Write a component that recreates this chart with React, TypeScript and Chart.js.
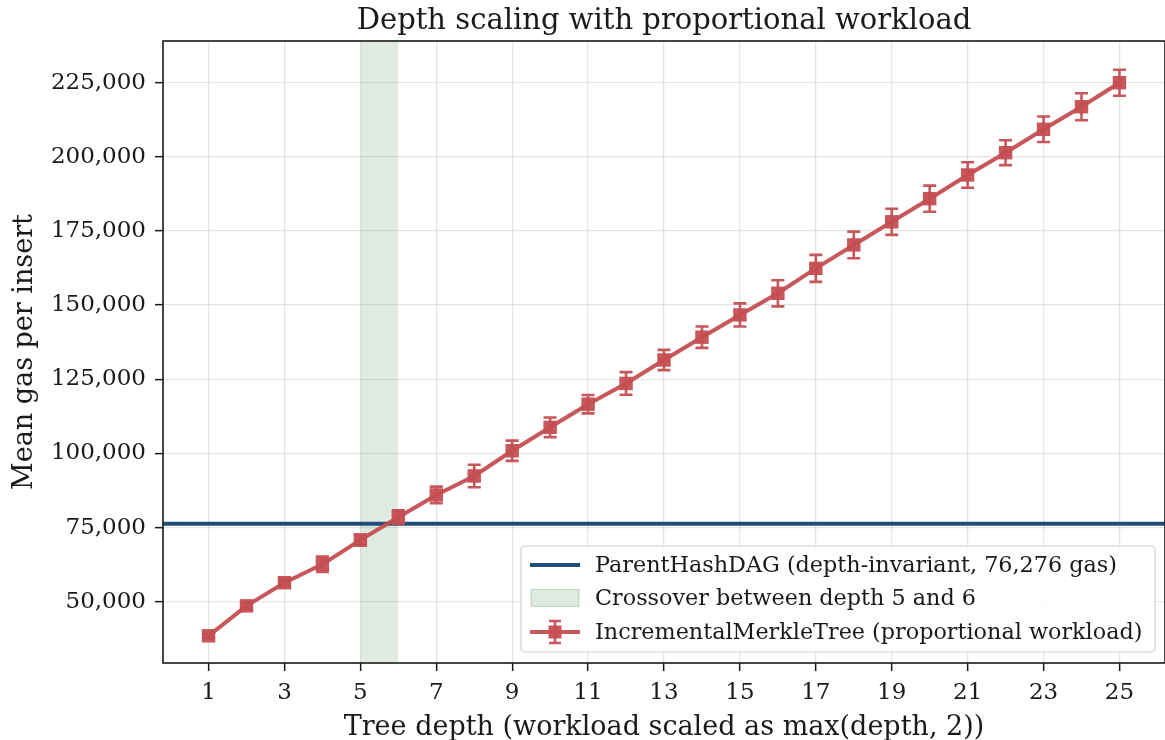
import React, { useEffect, useRef } from "react";
import { Chart, registerables } from "chart.js";

Chart.register(...registerables);

// ---------------- data ----------------
const depths = [1, 2, 3, 4, 5, 6, 7, 8, 9, 10, 11, 12, 13, 14, 15, 16, 17, 18, 19, 20, 21, 22, 23, 24, 25];
const meanGas = [
  38500, 48600, 56400, 62600, 70800, 78500, 86000, 92400, 100900, 108800, 116600, 123600, 131500,
  139200, 146700, 154000, 162400, 170300, 178100, 185900, 193900, 201400, 209300, 216900, 225000,
];
const gasErr = [
  700, 900, 1100, 2600, 1800, 2300, 2800, 3800, 3400, 3300, 3100, 3800, 3400,
  3600, 3900, 4400, 4550, 4500, 4400, 4400, 4300, 4200, 4300, 4550, 4400,
];
const parentHashGas = 76276;
const crossoverStart = 5;
const crossoverEnd = 6;
const xTickValues = [1, 3, 5, 7, 9, 11, 13, 15, 17, 19, 21, 23, 25];
const yTickValues = [50000, 75000, 100000, 125000, 150000, 175000, 200000, 225000];
const xRange = [-0.2, 26.2];
const yRange = [29330, 239070];

const titleText = "Depth scaling with proportional workload";
const xLabelText = "Tree depth (workload scaled as max(depth, 2))";
const yLabelText = "Mean gas per insert";
const legendLabels = [
  "ParentHashDAG (depth-invariant, 76,276 gas)",
  "Crossover between depth 5 and 6",
  "IncrementalMerkleTree (proportional workload)",
];

// ---------------- style ----------------
const FONT = "'DejaVu Serif', serif";
const RED = "rgba(196,78,82,0.95)";
const NAVY = "#1f4e79";
const BAND_FILL = "rgba(80,140,90,0.18)";
const BAND_EDGE = "rgba(80,140,90,0.28)";
const TEXT = "#1a1a1a";

const zeroPadding = () => ({ left: 0, right: 0, top: 0, bottom: 0 });

const errorBarPlugin = {
  id: "errorBars",
  afterDatasetsDraw(chart: any) {
    const { ctx, scales } = chart;
    const xs = scales.x;
    const ys = scales.y;
    ctx.save();
    ctx.strokeStyle = RED;
    ctx.lineWidth = 2.6;
    depths.forEach((d, i) => {
      const px = xs.getPixelForValue(d);
      const top = ys.getPixelForValue(meanGas[i] + gasErr[i]);
      const bot = ys.getPixelForValue(meanGas[i] - gasErr[i]);
      ctx.beginPath();
      ctx.moveTo(px, top);
      ctx.lineTo(px, bot);
      ctx.moveTo(px - 6.5, top);
      ctx.lineTo(px + 6.5, top);
      ctx.moveTo(px - 6.5, bot);
      ctx.lineTo(px + 6.5, bot);
      ctx.stroke();
    });
    ctx.restore();
  },
};

const decorPlugin = {
  id: "decor",
  afterDraw(chart: any) {
    const { ctx, chartArea } = chart;
    const { left, right, top, bottom } = chartArea;
    ctx.save();
    // spines
    ctx.strokeStyle = "#1a1a1a";
    ctx.lineWidth = 1.6;
    ctx.strokeRect(left, top, right - left, bottom - top);

    // title
    ctx.fillStyle = TEXT;
    ctx.font = `29px ${FONT}`;
    ctx.textAlign = "center";
    ctx.textBaseline = "alphabetic";
    ctx.fillText(titleText, 664, 29);

    // x label
    ctx.font = `27px ${FONT}`;
    ctx.fillText(xLabelText, 664, 735);

    // y label
    ctx.save();
    ctx.translate(32, (top + bottom) / 2);
    ctx.rotate(-Math.PI / 2);
    ctx.fillText(yLabelText, 0, 0);
    ctx.restore();

    // legend
    const bx = 521, by = 546, bw = 634, bh = 106;
    ctx.beginPath();
    ctx.roundRect(bx, by, bw, bh, 4);
    ctx.fillStyle = "rgba(255,255,255,0.85)";
    ctx.fill();
    ctx.strokeStyle = "#d0d0d0";
    ctx.lineWidth = 1.2;
    ctx.stroke();

    const rows = [565, 598, 632];
    const hx0 = 530, hx1 = 580, hxm = 555;
    // row 1: navy line
    ctx.strokeStyle = NAVY;
    ctx.lineWidth = 4;
    ctx.beginPath();
    ctx.moveTo(hx0, rows[0]);
    ctx.lineTo(hx1, rows[0]);
    ctx.stroke();
    // row 2: band patch
    ctx.fillStyle = BAND_FILL;
    ctx.fillRect(hx0 + 1, rows[1] - 8.5, hx1 - hx0 - 2, 17);
    ctx.strokeStyle = BAND_EDGE;
    ctx.lineWidth = 1.2;
    ctx.strokeRect(hx0 + 1, rows[1] - 8.5, hx1 - hx0 - 2, 17);
    // row 3: red line with marker and error bar
    ctx.strokeStyle = RED;
    ctx.lineWidth = 4;
    ctx.beginPath();
    ctx.moveTo(hx0, rows[2]);
    ctx.lineTo(hx1, rows[2]);
    ctx.stroke();
    ctx.fillStyle = RED;
    ctx.fillRect(hxm - 6.5, rows[2] - 6.5, 13, 13);
    ctx.lineWidth = 2.6;
    ctx.beginPath();
    ctx.moveTo(hxm, rows[2] - 11);
    ctx.lineTo(hxm, rows[2] + 11);
    ctx.moveTo(hxm - 6, rows[2] - 11);
    ctx.lineTo(hxm + 6, rows[2] - 11);
    ctx.moveTo(hxm - 6, rows[2] + 11);
    ctx.lineTo(hxm + 6, rows[2] + 11);
    ctx.stroke();

    ctx.fillStyle = TEXT;
    ctx.font = `22.3px ${FONT}`;
    ctx.textAlign = "left";
    ctx.textBaseline = "middle";
    legendLabels.forEach((t, i) => ctx.fillText(t, 595, rows[i] + 1));
    ctx.restore();
  },
};

export default function App() {
  const canvasRef = useRef<HTMLCanvasElement | null>(null);

  useEffect(() => {
    document.body.style.margin = "0";
    const canvas = canvasRef.current;
    if (!canvas) return;
    const merklePoints = depths.map((d, i) => ({ x: d, y: meanGas[i] }));
    const hlinePoints = [
      { x: xRange[0], y: parentHashGas },
      { x: xRange[1], y: parentHashGas },
    ];
    const bandPoints = [
      { x: crossoverStart, y: yRange[1] },
      { x: crossoverEnd, y: yRange[1] },
    ];

    const chart = new Chart(canvas, {
      type: "line",
      data: {
        datasets: [
          {
            label: legendLabels[2],
            data: merklePoints,
            borderColor: RED,
            backgroundColor: RED,
            borderWidth: 4,
            pointStyle: "rect",
            pointRadius: 9.5,
            pointBorderWidth: 0,
            pointBackgroundColor: RED,
            tension: 0,
          },
          {
            label: legendLabels[0],
            data: hlinePoints,
            borderColor: NAVY,
            borderWidth: 4,
            pointRadius: 0,
          },
          {
            label: legendLabels[1],
            data: bandPoints,
            borderColor: "rgba(0,0,0,0)",
            borderWidth: 0,
            backgroundColor: BAND_FILL,
            fill: "start",
            pointRadius: 0,
          },
        ],
      },
      options: {
        responsive: false,
        animation: false,
        devicePixelRatio: 1,
        layout: { autoPadding: false, padding: { top: 41, left: 0, right: 0, bottom: 0 } },
        plugins: {
          legend: { display: false },
          title: { display: false },
          tooltip: { enabled: false },
        },
        scales: {
          x: {
            type: "linear",
            min: xRange[0],
            max: xRange[1],
            afterBuildTicks: (s: any) => {
              s.ticks = xTickValues.map((v) => ({ value: v }));
            },
            afterFit: (s: any) => {
              s.height = 77;
              s.paddingLeft = 0;
              s.paddingRight = 0;
              s.getPadding = zeroPadding;
            },
            ticks: {
              autoSkip: false,
              maxRotation: 0,
              padding: 8,
              color: TEXT,
              font: { family: FONT, size: 23 },
              callback: (v: any) => String(v),
            },
            grid: {
              color: "rgba(0,0,0,0.1)",
              lineWidth: 1.3,
              tickColor: "#1a1a1a",
              tickLength: 8,
              tickWidth: 1.5,
            },
            border: { display: false },
          },
          y: {
            type: "linear",
            min: yRange[0],
            max: yRange[1],
            afterBuildTicks: (s: any) => {
              s.ticks = yTickValues.map((v) => ({ value: v }));
            },
            afterFit: (s: any) => {
              s.width = 163;
              s.paddingTop = 0;
              s.paddingBottom = 0;
              s.getPadding = zeroPadding;
            },
            ticks: {
              padding: 9,
              color: TEXT,
              font: { family: FONT, size: 23 },
              callback: (v: any) => Number(v).toLocaleString("en-US"),
            },
            grid: {
              color: "rgba(0,0,0,0.1)",
              lineWidth: 1.3,
              tickColor: "#1a1a1a",
              tickLength: 8,
              tickWidth: 1.5,
            },
            border: { display: false },
          },
        },
      },
      plugins: [errorBarPlugin, decorPlugin],
    });
    return () => chart.destroy();
  }, []);

  return (
    <div style={{ position: "absolute", left: 0, top: 0, width: 1165, height: 740, background: "#fff" }}>
      <canvas ref={canvasRef} width={1165} height={740} />
    </div>
  );
}
